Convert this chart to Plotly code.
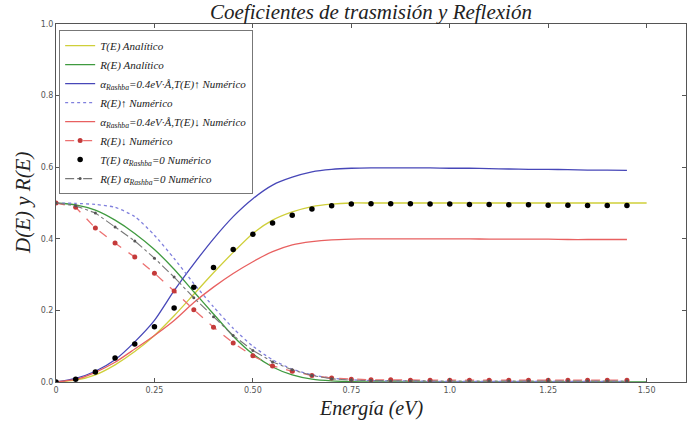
import plotly.graph_objects as go

# Energy grids (eV)
energia_num = [0.00, 0.05, 0.10, 0.15, 0.20, 0.25, 0.30, 0.35, 0.40, 0.45,
               0.50, 0.55, 0.60, 0.65, 0.70, 0.75, 0.80, 0.85, 0.90, 0.95,
               1.00, 1.05, 1.10, 1.15, 1.20, 1.25, 1.30, 1.35, 1.40, 1.45]
energia_ana = energia_num + [1.50]

# Analytic coefficients
t_analitico = [0.000, 0.005, 0.020, 0.048, 0.085, 0.130, 0.185, 0.245, 0.305, 0.362,
               0.415, 0.452, 0.475, 0.490, 0.497, 0.500, 0.500, 0.500, 0.500, 0.500,
               0.500, 0.500, 0.500, 0.500, 0.500, 0.500, 0.500, 0.500, 0.500, 0.500, 0.500]
r_analitico = [0.500, 0.495, 0.480, 0.452, 0.415, 0.370, 0.315, 0.252, 0.190, 0.128,
               0.078, 0.042, 0.020, 0.008, 0.003, 0.001, 0.000, 0.000, 0.000, 0.000,
               0.000, 0.000, 0.000, 0.000, 0.000, 0.000, 0.000, 0.000, 0.000, 0.000, 0.000]

# Numerical coefficients, alpha_Rashba = 0.4 eV·Å
t_up = [0.000, 0.010, 0.030, 0.062, 0.112, 0.172, 0.255, 0.330, 0.400, 0.462,
        0.512, 0.550, 0.572, 0.587, 0.594, 0.597, 0.598, 0.598, 0.598, 0.598,
        0.597, 0.597, 0.596, 0.595, 0.594, 0.594, 0.593, 0.592, 0.592, 0.591]
r_up = [0.500, 0.499, 0.496, 0.488, 0.462, 0.410, 0.345, 0.275, 0.210, 0.150,
        0.100, 0.062, 0.036, 0.020, 0.011, 0.006, 0.004, 0.003, 0.003, 0.002,
        0.002, 0.002, 0.002, 0.002, 0.002, 0.002, 0.002, 0.002, 0.002, 0.002]
t_down = [0.000, 0.007, 0.027, 0.055, 0.092, 0.130, 0.172, 0.222, 0.265, 0.303,
          0.336, 0.364, 0.383, 0.392, 0.397, 0.399, 0.400, 0.400, 0.400, 0.400,
          0.400, 0.400, 0.399, 0.399, 0.399, 0.399, 0.398, 0.398, 0.398, 0.398]
r_down = [0.500, 0.488, 0.430, 0.388, 0.349, 0.304, 0.254, 0.202, 0.153, 0.109,
          0.073, 0.045, 0.030, 0.018, 0.011, 0.008, 0.006, 0.006, 0.005, 0.005,
          0.005, 0.005, 0.005, 0.005, 0.005, 0.005, 0.005, 0.005, 0.005, 0.005]

# Numerical coefficients, alpha_Rashba = 0
t_cero = [0.000, 0.008, 0.028, 0.067, 0.106, 0.154, 0.207, 0.265, 0.320, 0.370,
          0.413, 0.444, 0.466, 0.483, 0.492, 0.497, 0.498, 0.498, 0.498, 0.497,
          0.497, 0.496, 0.496, 0.495, 0.495, 0.494, 0.494, 0.493, 0.493, 0.493]
r_cero = [0.500, 0.492, 0.472, 0.433, 0.394, 0.346, 0.293, 0.235, 0.182, 0.130,
          0.088, 0.056, 0.034, 0.018, 0.009, 0.005, 0.004, 0.003, 0.003, 0.003,
          0.003, 0.003, 0.003, 0.003, 0.003, 0.003, 0.003, 0.003, 0.003, 0.003]

x_ticks = [0, 0.25, 0.5, 0.75, 1.0, 1.25, 1.5]
x_tick_text = ["0", "0.25", "0.50", "0.75", "1.0", "1.25", "1.50"]
y_ticks = [0.0, 0.2, 0.4, 0.6, 0.8, 1.0]
y_tick_text = ["0.0", "0.2", "0.4", "0.6", "0.8", "1.0"]

RASHBA = "α<sub>Rashba</sub>"
SERIF = "Liberation Serif"

fig = go.Figure()
smooth = dict(shape="spline", smoothing=0.6)

fig.add_trace(go.Scatter(x=energia_ana, y=t_analitico, mode="lines",
                         name="T(E) Analítico",
                         line=dict(color="#cfcf3a", width=1.3, **smooth)))
fig.add_trace(go.Scatter(x=energia_ana, y=r_analitico, mode="lines",
                         name="R(E) Analítico",
                         line=dict(color="#3f9a3f", width=1.3, **smooth)))
fig.add_trace(go.Scatter(x=energia_num, y=t_up, mode="lines",
                         name=f"{RASHBA}=0.4eV·Å,T(E)↑ Numérico",
                         line=dict(color="#4747b8", width=1.3, **smooth)))
fig.add_trace(go.Scatter(x=energia_num, y=r_up, mode="lines",
                         name="R(E)↑ Numérico",
                         line=dict(color="#8080dd", width=1.3, dash="dot", **smooth)))
fig.add_trace(go.Scatter(x=energia_num, y=t_down, mode="lines",
                         name=f"{RASHBA}=0.4eV·Å,T(E)↓ Numérico",
                         line=dict(color="#e86060", width=1.3, **smooth)))
fig.add_trace(go.Scatter(x=energia_num, y=r_down, mode="lines+markers",
                         name="R(E)↓ Numérico",
                         line=dict(color="#ec7070", width=1.3, dash="dash"),
                         marker=dict(color="#c43a3a", size=5)))
fig.add_trace(go.Scatter(x=energia_num, y=t_cero, mode="markers",
                         name=f"T(E) {RASHBA}=0 Numérico",
                         marker=dict(color="#000000", size=5.5)))
fig.add_trace(go.Scatter(x=energia_num, y=r_cero, mode="lines+markers",
                         name=f"R(E) {RASHBA}=0 Numérico",
                         line=dict(color="#777777", width=1.1, dash="dashdot"),
                         marker=dict(color="#555555", size=3)))

axis_common = dict(showline=True, linecolor="#555555", linewidth=1, mirror="allticks",
                   ticks="inside", ticklen=4, tickcolor="#555555", showgrid=False,
                   zeroline=False,
                   tickfont=dict(family="DejaVu Sans", size=8, color="#555555"))

fig.update_xaxes(range=[0, 1.6], tickvals=x_ticks, ticktext=x_tick_text, **axis_common)
fig.update_yaxes(range=[0, 1.0], tickvals=y_ticks, ticktext=y_tick_text, **axis_common)

fig.update_layout(
    width=689, height=424,
    margin=dict(l=56, r=3, t=24, b=42),
    paper_bgcolor="white", plot_bgcolor="white",
    showlegend=True,
    legend=dict(x=0.005, y=0.983, xanchor="left", yanchor="top",
                bgcolor="white", bordercolor="#777777", borderwidth=1,
                font=dict(family=SERIF, size=11, color="#222222", style="italic"),
                itemwidth=30, tracegroupgap=0),
    annotations=[
        dict(text="Coeficientes de trasmisión y Reflexión", xref="paper", yref="paper",
             x=0.5, y=1, yanchor="middle", yshift=12, showarrow=False,
             font=dict(family=SERIF, size=21, color="#222222", style="italic")),
        dict(text="Energía (eV)", xref="paper", yref="paper",
             x=0.5, y=0, yanchor="middle", yshift=-26, showarrow=False,
             font=dict(family=SERIF, size=20, color="#222222", style="italic")),
        dict(text="D(E) y R(E)", xref="paper", yref="paper",
             x=0, y=0.5, xanchor="center", xshift=-33, textangle=-90, showarrow=False,
             font=dict(family=SERIF, size=21, color="#222222", style="italic")),
    ],
)

fig.write_html("out.html")
